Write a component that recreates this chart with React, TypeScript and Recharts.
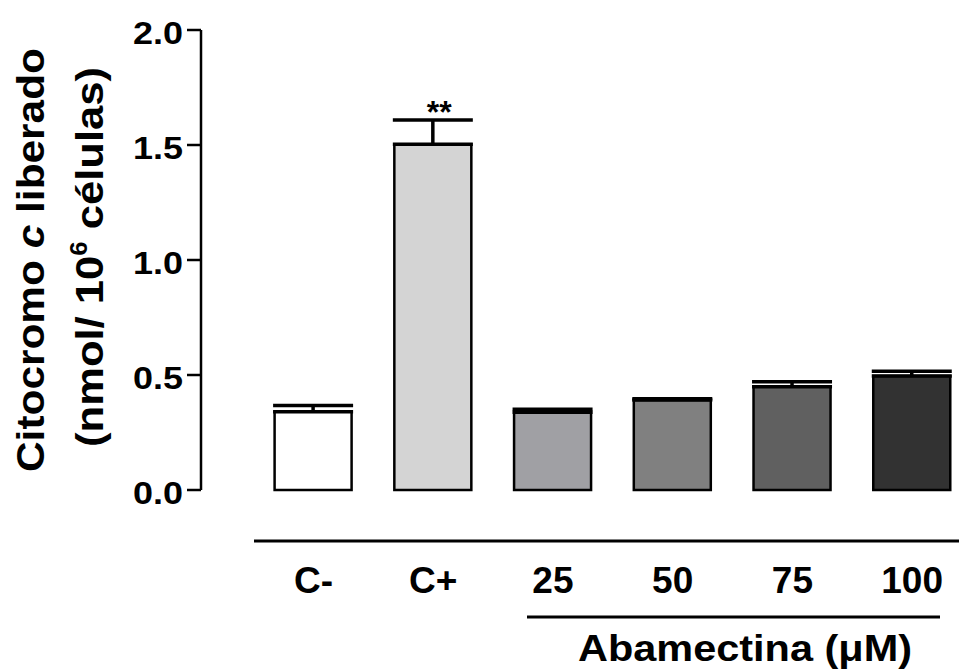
import { BarChart, Bar, Cell, XAxis, YAxis, ErrorBar, ReferenceDot } from "recharts"

const categorias = ["C-", "C+", "25", "50", "75", "100"]
const citocromo = [0.34, 1.503, 0.338, 0.391, 0.449, 0.496]
const erroPadrao = [0.027, 0.106, 0.013, 0.006, 0.022, 0.02]
const significancia = ["", "**", "", "", "", ""]
const cores = ["#ffffff", "#d4d4d4", "#a0a0a4", "#808080", "#606060", "#323232"]
const ticksY = [0, 0.5, 1, 1.5, 2]

const FONTE = "'Liberation Sans', Arial, Helvetica, sans-serif"

const dados = categorias.map((nome, i) => ({
  nome,
  valor: citocromo[i],
  erro: [0, erroPadrao[i]],
  sig: significancia[i],
}))

const TickY = ({ x, y, payload }: any) => (
  <text
    x={x}
    y={y}
    dy={14}
    textAnchor="end"
    fontFamily={FONTE}
    fontWeight="bold"
    fontSize={32}
    textLength={50}
    lengthAdjust="spacingAndGlyphs"
    fill="#000"
  >
    {Number(payload.value).toFixed(1)}
  </text>
)

const TickX = ({ x, y, payload }: any) => (
  <text
    x={x}
    y={y}
    dy={103}
    textAnchor="middle"
    fontFamily={FONTE}
    fontWeight="bold"
    fontSize={37}
    fill="#000"
  >
    {payload.value}
  </text>
)

const RotuloY = () => (
  <g fontFamily={FONTE} fontWeight="bold" fill="#000">
    <text
      x={44}
      y={260}
      transform="rotate(-90, 44, 260)"
      textAnchor="middle"
      fontSize={39}
      textLength={424}
      lengthAdjust="spacingAndGlyphs"
    >
      Citocromo <tspan fontStyle="italic">c</tspan> liberado
    </text>
    <text
      x={103}
      y={257}
      transform="rotate(-90, 103, 257)"
      textAnchor="middle"
      fontSize={39}
      textLength={380}
      lengthAdjust="spacingAndGlyphs"
    >
      (nmol/ 10<tspan dy={-16} fontSize={23}>6</tspan>
      <tspan dy={16}> células)</tspan>
    </text>
  </g>
)

const RotuloX = () => (
  <g>
    <line x1={254} y1={541} x2={959} y2={541} stroke="#000" strokeWidth={3} />
    <line x1={527} y1={617} x2={940} y2={617} stroke="#000" strokeWidth={3} />
    <text
      x={745}
      y={661}
      textAnchor="middle"
      fontFamily={FONTE}
      fontWeight="bold"
      fontSize={37}
      textLength={334}
      lengthAdjust="spacingAndGlyphs"
      fill="#000"
    >
      Abamectina (μM)
    </text>
  </g>
)

const Asteriscos = ({ viewBox, value }: any) => (
  <text
    x={viewBox.x + 6}
    y={viewBox.y + 3}
    textAnchor="middle"
    fontFamily={FONTE}
    fontWeight="bold"
    fontSize={32}
    fill="#000"
  >
    {value}
  </text>
)

export default function App() {
  return (
    <div
      style={{
        position: "absolute",
        left: 0,
        top: 0,
        width: 959,
        height: 672,
        overflow: "hidden",
        background: "#fff",
      }}
    >
      <BarChart
        width={959}
        height={672}
        data={dados}
        margin={{ top: 30, right: -13, bottom: 0, left: 0 }}
        barSize={77}
      >
        <XAxis
          dataKey="nome"
          height={182}
          axisLine={false}
          tickLine={false}
          tickSize={0}
          tickMargin={0}
          padding={{ left: 52.6, right: 0 }}
          tick={<TickX />}
          interval={0}
          label={{ content: () => <RotuloX /> }}
        />
        <YAxis
          width={201}
          domain={[0, 2]}
          ticks={ticksY}
          interval={0}
          tickSize={14}
          tickMargin={4}
          axisLine={{ stroke: "#000", strokeWidth: 2.5 }}
          tickLine={{ stroke: "#000", strokeWidth: 2.5 }}
          tick={<TickY />}
          label={{ content: () => <RotuloY /> }}
        />
        <Bar dataKey="valor" isAnimationActive={false} stroke="#000" strokeWidth={2.5}>
          {dados.map((_, i) => (
            <Cell key={i} fill={cores[i]} />
          ))}
          <ErrorBar
            dataKey="erro"
            direction="y"
            width={40}
            stroke="#000"
            strokeWidth={3.5}
            isAnimationActive={false}
          />
        </Bar>
        {dados
          .filter((d) => d.sig)
          .map((d) => (
            <ReferenceDot
              key={d.nome}
              x={d.nome}
              y={d.valor + d.erro[1]}
              r={0}
              fill="none"
              stroke="none"
              label={{ content: (p: any) => <Asteriscos {...p} value={d.sig} /> }}
            />
          ))}
      </BarChart>
    </div>
  )
}
